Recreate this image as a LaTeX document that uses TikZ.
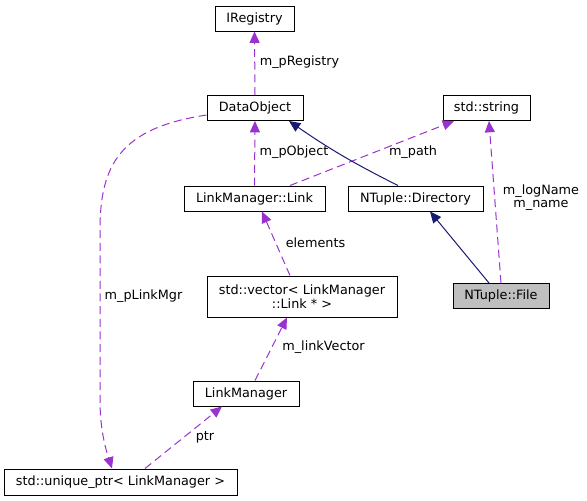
\documentclass[tikz,border=0pt]{standalone}
\usepackage{fontspec}
\setmainfont{DejaVu Sans}
\usetikzlibrary{arrows.meta}
\definecolor{dep}{HTML}{9A32CD}
\definecolor{inh}{HTML}{191970}
\begin{document}
\begin{tikzpicture}[x=0.75pt,y=-0.75pt,
  font=\fontsize{9.6}{11}\selectfont,
  box/.style={draw=black,line width=0.75pt,inner sep=0pt,minimum height=18.75pt,align=center},
  depl/.style={draw=dep,line width=0.75pt,dash pattern=on 6pt off 3.5pt,-{Triangle[length=8.5pt,width=7.5pt,fill=dep]}},
  inhl/.style={draw=inh,line width=0.75pt,-{Triangle[length=8.5pt,width=7.5pt,fill=inh]}},
  lab/.style={inner sep=0pt,align=center}]
\useasboundingbox (0,0) rectangle (587,501);
% nodes
\node[box,minimum width=59.25pt] (ireg) at (254.5,18.5) {IRegistry};
\node[box,minimum width=72pt] (dob) at (255,108) {DataObject};
\node[box,minimum width=65.25pt] (str) at (486.5,108) {std::string};
\node[box,minimum width=105.75pt] (link) at (254.5,198.5) {LinkManager::Link};
\node[box,minimum width=101.25pt] (dir) at (415.5,198.5) {NTuple::Directory};
\node[box,minimum width=72pt,fill=black!25] (file) at (501,296) {NTuple::File};
\node[box,minimum width=142.5pt,minimum height=30.75pt,font=\fontsize{9.6}{10.5}\selectfont] (vec) at (302,296.5) {std::vector< LinkManager\\::Link * >};
\node[box,minimum width=79.5pt] (lm) at (246,393.5) {LinkManager};
\node[box,minimum width=174.75pt,minimum height=19.5pt] (uptr) at (120.5,482) {std::unique\_ptr< LinkManager >};
% edges
\draw[depl] (dob.north) -- (ireg.south);
\node[lab] (l1) at (299.5,62) {m\_pRegistry};
\draw[depl] (link.north) -- (dob.south);
\node[lab] (l2) at (294,152) {m\_pObject};
\draw[depl] (link.north -| 290,0) -- (str.south -| 454,0);
\node[lab] (l3) at (413,152) {m\_path};
\draw[inhl] (dir.north -| 398,0) to[bend left=4] (dob.south -| 289,0);
\draw[inhl] (file.north -| 489,0) -- (dir.south -| 430,0);
\draw[depl] (file.north -| 501,0) -- (str.south -| 489,0);
\node[lab,font=\fontsize{9.6}{10}\selectfont] (l4) at (541,197.5) {m\_logName\\m\_name};
\draw[depl] (vec.north -| 290,0) -- (link.south -| 262,0);
\node[lab] (l5) at (315.5,243) {elements};
\draw[depl] (lm.north -| 255,0) -- (vec.south -| 287,0);
\node[lab] (l6) at (323.5,347) {m\_linkVector};
\draw[depl] (uptr.north -| 145,0) -- (lm.south -| 222,0);
\node[lab] (l7) at (205,437) {ptr};
\draw[depl] (dob.west |- 0,115) .. controls (120,128) and (100,165) .. (100,230) -- (100,400) .. controls (100,430) and (106,450) .. (uptr.north -| 112,0);
\node[lab] (l8) at (143.5,296) {m\_pLinkMgr};
\end{tikzpicture}
\end{document}
